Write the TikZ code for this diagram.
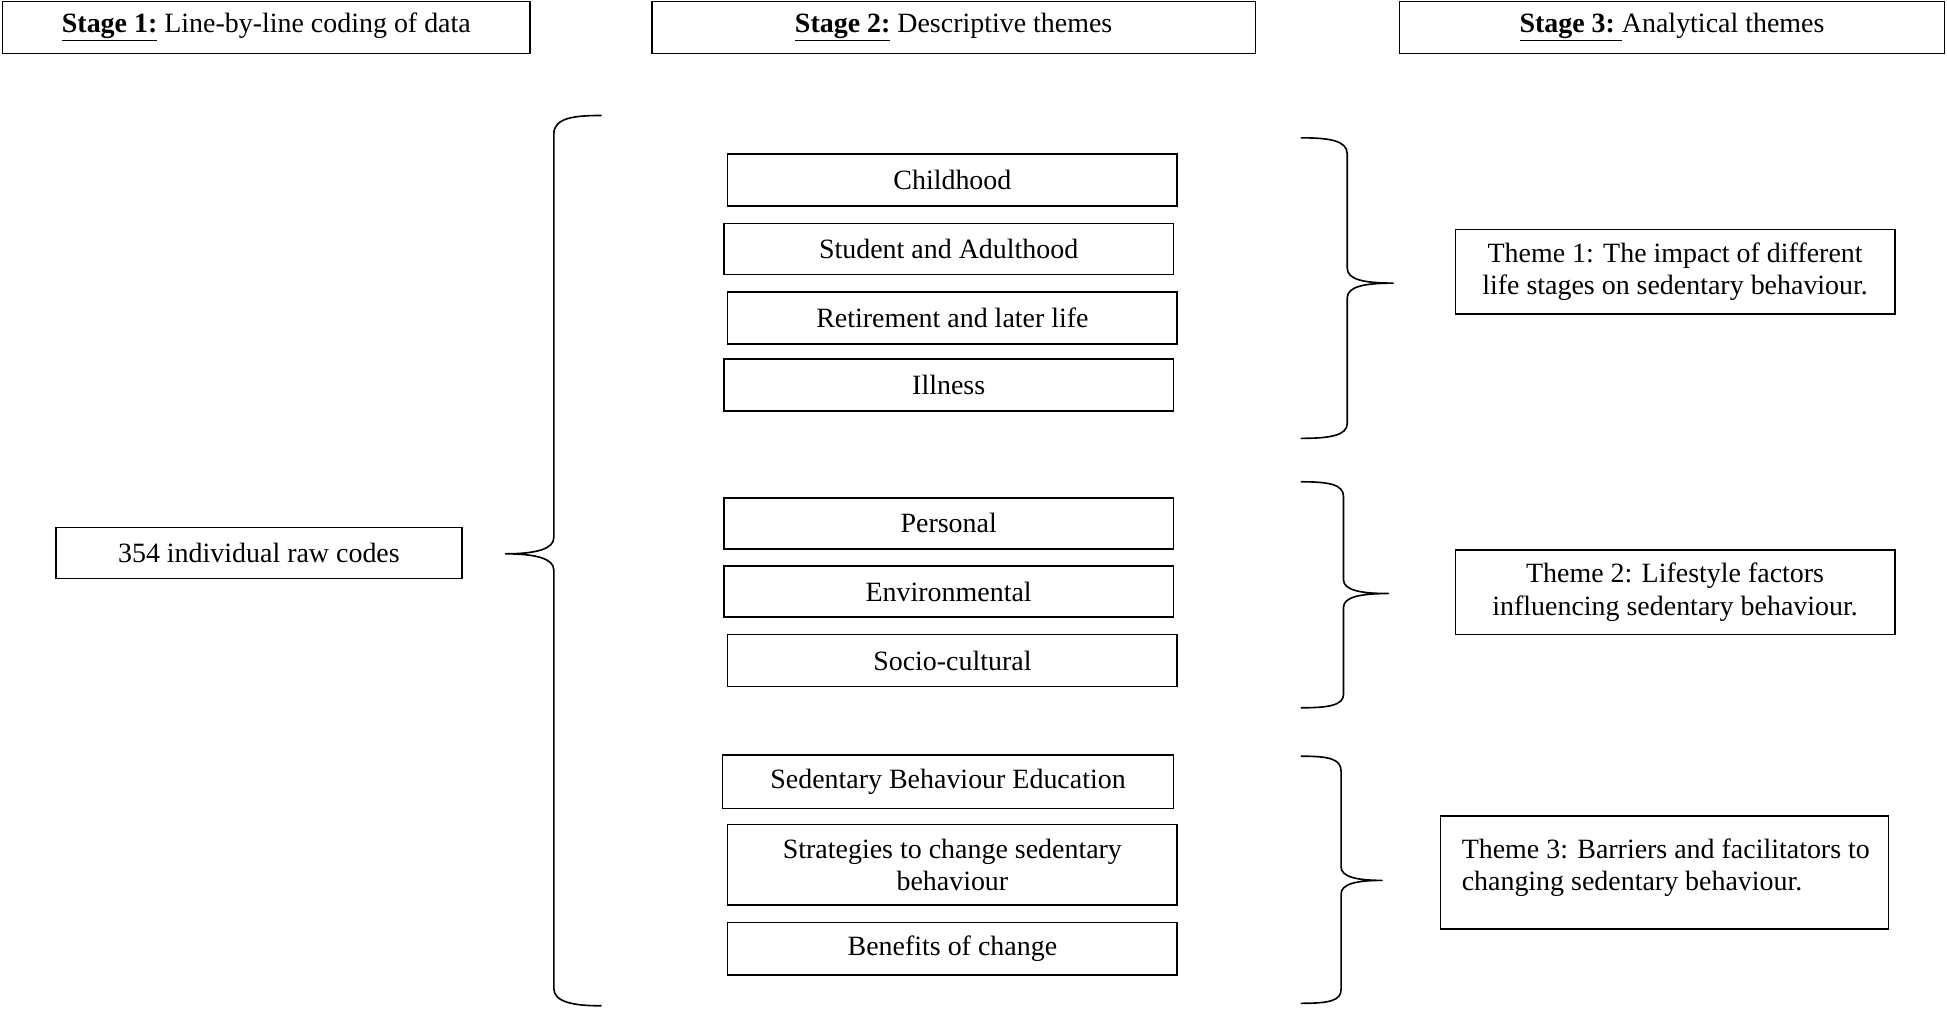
\documentclass[tikz,border=0pt]{standalone}
\usepackage{fontspec}
\setmainfont{Liberation Serif}
\begin{document}
\begin{tikzpicture}[x=1pt,y=-1pt,
  every node/.style={font=\fontsize{22.5}{26}\selectfont},
  tbox/.style={draw,line width=1.2pt,inner sep=0pt,align=center},
  brace/.style={draw,line width=1.3pt,line cap=round,line join=round}]
\useasboundingbox[fill=white] (0,0) rectangle (1568,812);
% headers
\node[tbox,minimum width=425,minimum height=42] (h1) at (214.5,22) {\underline{\textbf{Stage 1:}} Line-by-line coding of data};
\node[tbox,minimum width=486,minimum height=42] (h2) at (768,22) {\underline{\textbf{Stage 2:}} Descriptive themes};
\node[tbox,minimum width=439,minimum height=42] (h3) at (1346.5,22) {\underline{\textbf{Stage 3:}\ }Analytical themes};
% stage 1
\node[tbox,minimum width=327,minimum height=41] (raw) at (208.5,445.5) {354 individual raw codes};
% stage 2
\node[tbox,minimum width=362,minimum height=42] (c1) at (767,145) {Childhood};
\node[tbox,minimum width=362,minimum height=41] (c2) at (764,200.5) {Student and Adulthood};
\node[tbox,minimum width=362,minimum height=42] (c3) at (767,256) {Retirement and later life};
\node[tbox,minimum width=362,minimum height=42] (c4) at (764,310) {Illness};
\node[tbox,minimum width=362,minimum height=41] (l1) at (764,421.5) {Personal};
\node[tbox,minimum width=362,minimum height=41] (l2) at (764,476.5) {Environmental};
\node[tbox,minimum width=362,minimum height=42] (l3) at (767,532) {Socio-cultural};
\node[tbox,minimum width=363,minimum height=43] (b1) at (763.5,629.5) {Sedentary Behaviour Education};
\node[tbox,minimum width=362,minimum height=65] (b2) at (767,696.5) {Strategies to change sedentary\\behaviour};
\node[tbox,minimum width=362,minimum height=42] (b3) at (767,764) {Benefits of change};
% stage 3
\node[tbox,minimum width=354,minimum height=68] (t1) at (1349,219) {Theme 1: The impact of different\\life stages on sedentary behaviour.};
\node[tbox,minimum width=354,minimum height=68] (t2) at (1349,477) {Theme 2: Lifestyle factors\\influencing sedentary behaviour.};
\node[tbox,minimum width=361,minimum height=91] (t3) at (1340.5,702.5) {};
\node[align=left,anchor=west,inner sep=0pt] (t3text) at (1177,699) {Theme 3: Barriers and facilitators to\\changing sedentary behaviour.};
% left brace
\draw[brace] (484,93) .. controls (462,93) and (446,95) .. (446,108) -- (446,433)
  .. controls (446,442) and (432,446) .. (407,446)
  .. controls (432,446) and (446,450) .. (446,459) -- (446,796)
  .. controls (446,807) and (462,810) .. (484,810);
% right braces
\draw[brace] (1048,111) .. controls (1070,111) and (1085,113) .. (1085,124) -- (1085,216)
  .. controls (1085,225) and (1098,228) .. (1122,228)
  .. controls (1098,228) and (1085,231) .. (1085,240) -- (1085,341)
  .. controls (1085,351) and (1070,353) .. (1048,353);
\draw[brace] (1048,388) .. controls (1070,388) and (1082,390) .. (1082,400) -- (1082,467)
  .. controls (1082,475) and (1095,478) .. (1118,478)
  .. controls (1095,478) and (1082,481) .. (1082,489) -- (1082,559)
  .. controls (1082,568) and (1070,570) .. (1048,570);
\draw[brace] (1048,609) .. controls (1070,609) and (1080,611) .. (1080,621) -- (1080,698)
  .. controls (1080,706) and (1092,709) .. (1113,709)
  .. controls (1092,709) and (1080,712) .. (1080,720) -- (1080,797)
  .. controls (1080,806) and (1070,808) .. (1048,808);
\end{tikzpicture}
\end{document}
